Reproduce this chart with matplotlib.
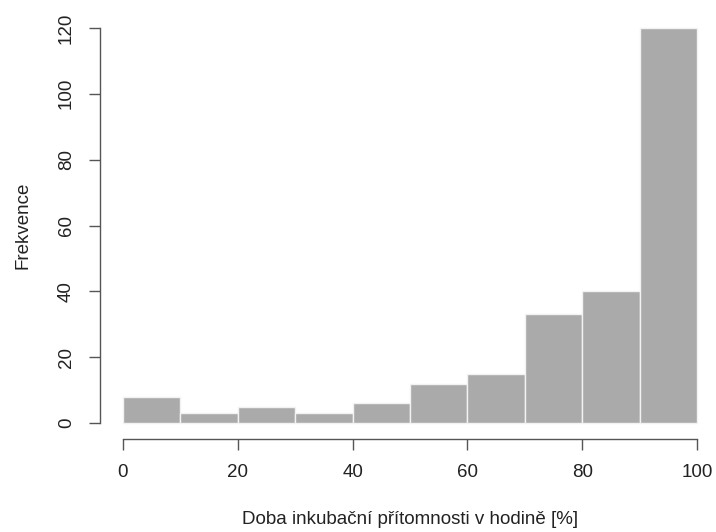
import matplotlib
matplotlib.use("Agg")
import matplotlib.pyplot as plt
import numpy as np

plt.rcParams["font.family"] = ["Liberation Sans", "DejaVu Sans"]

# histogram bins (hours share, %) and counts
bin_edges = [0, 10, 20, 30, 40, 50, 60, 70, 80, 90, 100]
counts = [8, 3, 5, 3, 6, 12, 15, 33, 40, 120]
x_ticks = [0, 20, 40, 60, 80, 100]
y_ticks = [0, 20, 40, 60, 80, 100, 120]

W, H = 716, 532
fig = plt.figure(figsize=(W / 100, H / 100), dpi=100)
# R-style plot region: data range padded by 4 %
ax = fig.add_axes([100 / W, (H - 439) / H, 620 / W, 427 / H])

lefts = np.array(bin_edges[:-1])
widths = np.diff(bin_edges)
ax.bar(lefts, counts, width=widths, align="edge", color="#aaaaaa",
       edgecolor="#f2f2f2", linewidth=1.0)

ax.set_xlim(-4, 104)
ax.set_ylim(-4.8, 124.8)
for s in ["top", "right"]:
    ax.spines[s].set_visible(False)
ax.spines["left"].set_bounds(0, 120)
ax.spines["bottom"].set_bounds(0, 100)
for s in ["left", "bottom"]:
    ax.spines[s].set_color("#555555")
    ax.spines[s].set_linewidth(1.0)

ax.set_xticks(x_ticks)
ax.set_yticks(y_ticks)
ax.set_yticklabels([str(v) for v in y_ticks], rotation=90, va="center")
ax.tick_params(axis="both", length=8, width=1.0, color="#555555",
               labelsize=13.5, labelcolor="#222222")
ax.tick_params(axis="x", pad=10)
ax.tick_params(axis="y", pad=10)

ax.set_xlabel("Doba inkubační přítomnosti v hodině [%]", fontsize=13.5, color="#222222")
ax.set_ylabel("Frekvence", fontsize=13.5, color="#222222")
ax.xaxis.label.set_va("center")
ax.yaxis.label.set_va("center")
ax.xaxis.set_label_coords(0.5 * 574 / 620 + 23 / 620, -(520 - 439) / 427)
ax.yaxis.set_label_coords(-(100 - 23) / 620, 0.5)

fig.savefig("out.png", dpi=100)
